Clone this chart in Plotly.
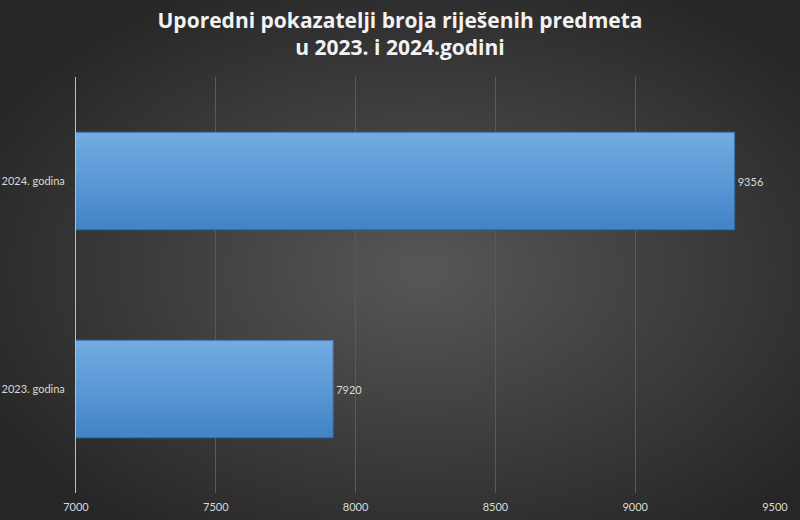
import base64
import plotly.graph_objects as go

# podaci
godine = ['2023. godina', '2024. godina']
rijeseni = [7920, 9356]
x_ticks = [7000, 7500, 8000, 8500, 9000, 9500]

# pozadina s radijalnim prelazom (kao u Excelu)
svg = """<svg xmlns='http://www.w3.org/2000/svg' width='800' height='520'>
<defs><radialGradient id='g' cx='53%' cy='52%' r='62%'>
<stop offset='0%' stop-color='#575757'/>
<stop offset='100%' stop-color='#262626'/>
</radialGradient></defs>
<rect width='800' height='520' fill='url(#g)'/></svg>"""
bg_src = 'data:image/svg+xml;base64,' + base64.b64encode(svg.encode()).decode()

W, H = 800, 520
ml, mr, mt, mb = 76, 25, 77, 27
pw, ph = W - ml - mr, H - mt - mb
bw = 0.47

fig = go.Figure()

# stupci s prelazom boje odozdo prema gore (slojevi jedan preko drugog)
n = 12
c0, c1 = (0x43, 0x85, 0xC8), (0x72, 0xAA, 0xE2)
for i in range(n):
    t = i / (n - 1)
    col = 'rgb({},{},{})'.format(*[round(a + (b - a) * t) for a, b in zip(c0, c1)])
    w = bw * (n - i) / n
    fig.add_trace(go.Bar(
        y=godine, x=rijeseni, orientation='h',
        width=w, offset=bw / 2 - w,
        marker=dict(color=col, line=dict(width=0)),
        hoverinfo='skip',
    ))

# obrub i oznake vrijednosti
fig.add_trace(go.Bar(
    y=godine, x=rijeseni, orientation='h',
    width=bw, offset=-bw / 2,
    marker=dict(color='rgba(0,0,0,0)', line=dict(color='#2E5E8E', width=1)),
    text=[str(v) for v in rijeseni], textposition='outside',
    textfont=dict(color='#D9D9D9', size=11, family='Lato'),
    cliponaxis=False,
))

fig.update_layout(
    width=W, height=H,
    margin=dict(l=ml, r=mr, t=mt, b=mb, autoexpand=False),
    paper_bgcolor='#3a3a3a',
    plot_bgcolor='rgba(0,0,0,0)',
    barmode='overlay',
    title=dict(text='Uporedni pokazatelji broja riješenih predmeta<br>u 2023. i 2024.godini',
               x=0.5, xanchor='center', y=1 - 28 / H, yanchor='middle', yref='container',
               automargin=False,
               font=dict(family='Open Sans', size=21, color='#F2F2F2', weight='bold')),
    images=[dict(source=bg_src, xref='paper', yref='paper',
                 x=-ml / pw, y=1 + mt / ph, sizex=W / pw, sizey=H / ph,
                 xanchor='left', yanchor='top', sizing='stretch', layer='below')],
    showlegend=False,
)
fig.update_xaxes(range=[7000, 9500], tickvals=x_ticks, automargin=False,
                 showgrid=True, gridcolor='#5A5A5A', gridwidth=1,
                 zeroline=False, showline=False,
                 tickfont=dict(color='#D9D9D9', size=11, family='Lato'),
                 ticks='outside', ticklen=4, tickcolor='rgba(0,0,0,0)')
fig.update_yaxes(showline=True, linecolor='#BFBFBF', linewidth=1,
                 showgrid=False, automargin=False,
                 tickfont=dict(color='#D9D9D9', size=11, family='Lato'),
                 ticks='outside', ticklen=8, tickcolor='rgba(0,0,0,0)')

# bez margine stranice, da slika stane u prozor
fig.write_html('out.html', config={'displayModeBar': False},
               post_script="document.body.style.margin='0';")
